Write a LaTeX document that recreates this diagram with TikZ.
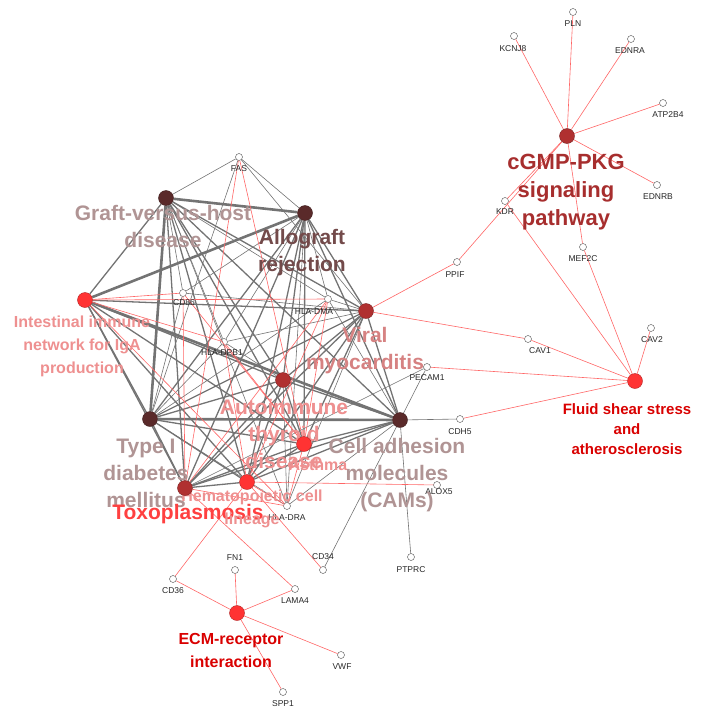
\documentclass[tikz,border=0pt]{standalone}
\usepackage{fontspec}
\setmainfont{Liberation Sans}
\begin{document}
\begin{tikzpicture}[x=1pt,y=-1pt,
  hub/.style={circle,draw=#1!70!black,fill=#1,line width=0.4pt,minimum size=15pt,inner sep=0pt},
  gene/.style={circle,draw=black!70,fill=white,line width=0.4pt,minimum size=7pt,inner sep=0pt},
  glab/.style={font=\fontsize{8.5}{8.5}\selectfont,text=black!85,inner sep=1pt},
  hh/.style={draw=black!55,line width=1.6pt},
  hg/.style={draw=black!55,line width=0.6pt},
  pk/.style={draw=red!60!white,line width=0.6pt},
  big/.style={align=center,font=\fontsize{21}{27}\bfseries\selectfont,text=#1},
  mid/.style={align=center,font=\fontsize{16}{23}\bfseries\selectfont,text=#1}]
\useasboundingbox (0,0) rectangle (712,715);
\definecolor{dk}{HTML}{5A2A2A}
\definecolor{md}{HTML}{B03030}
\definecolor{rd}{HTML}{FF3333}
\definecolor{gl}{HTML}{B09494}
\definecolor{pl}{HTML}{EE9090}
\coordinate (pG) at (166,198); \coordinate (pA) at (305,213);
\coordinate (pI) at (85,300); \coordinate (pV) at (366,311);
\coordinate (pAT) at (283,380); \coordinate (pT) at (150,419);
\coordinate (pC) at (400,420); \coordinate (pAs) at (304,444);
\coordinate (pTx) at (185,488); \coordinate (pH) at (247,482);
\coordinate (pE) at (237,613); \coordinate (pK) at (567,136);
\coordinate (pF) at (635,381);
\foreach \n/\x/\y in {FAS/239/157,CD86/183/293,HLADMA/328/299,HLADPB1/224/342,HLADRA/287/506,
  PECAM1/427/367,CDH5/460/419,ALOX5/437/485,PTPRC/411/557,CD34/323/570,CD36/173/579,FN1/235/570,
  LAMA4/295/589,VWF/341/655,SPP1/283/692,CAV1/528/339,CAV2/651/328,PPIF/457/262,KDR/505/201,
  MEF2C/583/247,EDNRB/657/185,ATP2B4/663/103,EDNRA/631/39,PLN/573/12,KCNJ8/514/36}
  \node[gene] (\n) at (\x,\y) {};
\foreach \n/\c in {G/dk,A/dk,I/rd,V/md,AT/md,T/dk,C/dk,As/rd,Tx/md,H/rd,E/rd,K/md,F/rd}
  \node[circle,minimum size=15pt,inner sep=0pt] (\n) at (p\n) {};
\foreach \a/\b in {G/I,G/V,G/AT,G/T,G/C,G/As,G/Tx,G/H,A/V,A/AT,A/T,A/C,A/As,A/Tx,A/H,
  I/V,I/AT,I/T,I/As,I/Tx,I/H,V/AT,V/T,V/C,V/As,V/Tx,V/H,AT/T,AT/C,AT/As,AT/Tx,AT/H,
  T/As,T/Tx,T/H,C/As,C/Tx,C/H,As/Tx,As/H,Tx/H}
  \draw[hh,line width=1.3pt] (\a) -- (\b);
\foreach \a/\b in {G/A,I/A,I/C,T/C,G/T}
  \draw[hh,line width=2.6pt] (\a) -- (\b);
\foreach \g/\h in {FAS/G,FAS/A,FAS/V,FAS/T,CD86/G,CD86/A,CD86/T,CD86/V,HLADMA/G,HLADMA/A,HLADMA/V,HLADMA/T,HLADMA/C,
  HLADPB1/G,HLADPB1/A,HLADPB1/T,HLADPB1/V,HLADPB1/AT,HLADRA/G,HLADRA/A,HLADRA/T,HLADRA/V,HLADRA/AT,HLADRA/C,
  PECAM1/C,CDH5/C,PTPRC/C,CD34/C,PECAM1/Tx}
  \draw[hg] (\g) -- (\h);
\foreach \g/\h in {FAS/Tx,FAS/As,CD86/I,CD86/As,CD86/Tx,HLADMA/I,HLADMA/As,HLADMA/H,HLADMA/Tx,
  HLADPB1/I,HLADPB1/As,HLADPB1/H,HLADRA/I,HLADRA/As,HLADRA/H,HLADRA/Tx,
  ALOX5/H,CD34/H,CD36/H,CD36/E,LAMA4/Tx,LAMA4/E,FN1/E,VWF/E,SPP1/E,
  CAV1/V,CAV1/F,CAV2/F,PECAM1/F,CDH5/F,KDR/F,MEF2C/F,PPIF/V,PPIF/K,KDR/K,MEF2C/K,
  EDNRB/K,ATP2B4/K,EDNRA/K,PLN/K,KCNJ8/K}
  \draw[pk] (\g) -- (\h);
\foreach \n/\t/\dx/\dy in {FAS/FAS/0/12,CD86/CD86/1/10,HLADMA/HLA-DMA/-14/13,HLADPB1/HLA-DPB1/-2/11,HLADRA/HLA-DRA/0/12,
  PECAM1/PECAM1/0/11,CDH5/CDH5/0/13,ALOX5/ALOX5/2/7,PTPRC/PTPRC/0/13,CD34/CD34/0/-13,CD36/CD36/0/12,FN1/FN1/0/-12,
  LAMA4/LAMA4/0/12,VWF/VWF/1/12,SPP1/SPP1/0/12,CAV1/CAV1/12/12,CAV2/CAV2/1/12,PPIF/PPIF/-2/13,KDR/KDR/0/11,
  MEF2C/MEF2C/0/12,EDNRB/EDNRB/1/12,ATP2B4/ATP2B4/5/12,EDNRA/EDNRA/-1/12,PLN/PLN/0/12,KCNJ8/KCNJ8/-1/13}
  \node[glab] (l\n) at ([shift={(\dx,\dy)}]\n.center) {\t};
\node[big=gl] (lG) at (163,226) {Graft-versus-host\\disease};
\node[big=dk!85] (lA) at (302,253) {Allograft\\rejection};
\node[mid=pl] (lI) at (82,346) {Intestinal immune\\network for IgA\\production};
\node[big=pl!90!black] (lV) at (365,351) {Viral\\myocarditis};
\node[big=pl] (lAT) at (284,434) {Autoimmune\\thyroid\\disease};
\node[mid=pl] (lAs) at (318,465) {Asthma};
\node[big=gl] (lT) at (146,473) {Type I\\diabetes\\mellitus};
\node[big=gl] (lC) at (397,475) {Cell adhesion\\molecules\\(CAMs)};
\node[big=red!75!white] (lTx) at (188,514) {Toxoplasmosis};
\node[mid=pl] (lH) at (252,509) {Hematopoietic cell\\lineage};
\node[mid=red!85!black] (lE) at (231,650) {ECM-receptor\\interaction};
\node[big=md!95!black,font=\fontsize{22}{28}\bfseries\selectfont] (lK) at (566,192) {cGMP-PKG\\signaling\\pathway};
\node[mid=red!85!black,font=\fontsize{15}{20}\bfseries\selectfont] (lF) at (627,429) {Fluid shear stress\\and\\atherosclerosis};
\foreach \n/\c in {G/dk,A/dk,I/rd,V/md,AT/md,T/dk,C/dk,As/rd,Tx/md,H/rd,E/rd,K/md,F/rd}
  \node[hub=\c] at (p\n) {};
\end{tikzpicture}
\end{document}
